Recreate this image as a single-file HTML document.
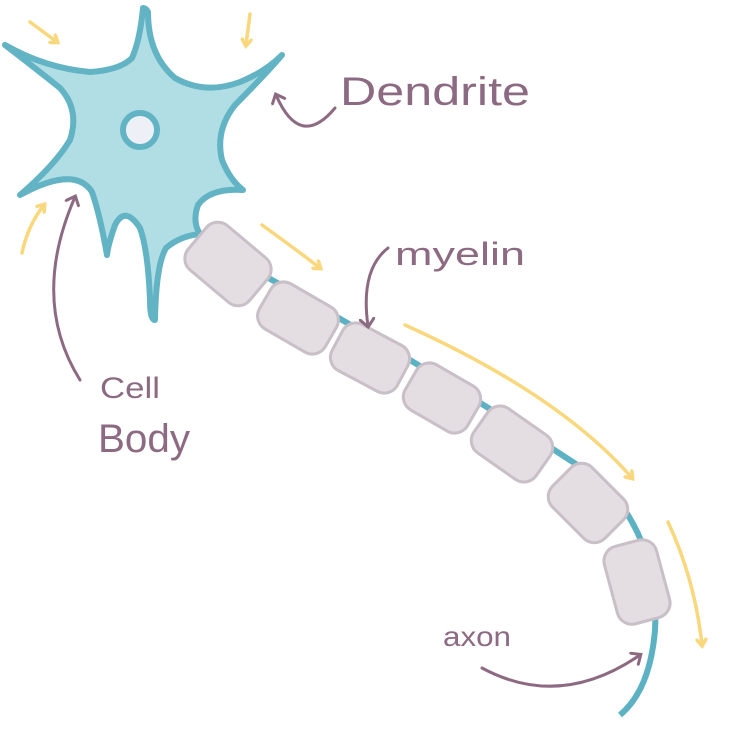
<!DOCTYPE html>
<html><head><meta charset="utf-8"><style>
html,body{margin:0;padding:0;background:#fff}
svg{display:block}
text{font-family:"Liberation Sans",sans-serif;fill:#8c6a82}
</style></head><body>
<svg width="750" height="750" viewBox="0 0 750 750" xmlns="http://www.w3.org/2000/svg">
<defs>
<marker id="ya" markerWidth="12" markerHeight="12" refX="7" refY="6" orient="auto" markerUnits="userSpaceOnUse">
<path d="M1,1 L8,6 L1,11" fill="none" stroke="#f9d77c" stroke-width="3.5" stroke-linecap="round"/></marker>
<marker id="pa" markerWidth="16" markerHeight="16" refX="8" refY="8" orient="auto" markerUnits="userSpaceOnUse">
<path d="M1,1 L9,8 L1,15" fill="none" stroke="#8c6a82" stroke-width="3" stroke-linecap="round"/></marker>
</defs>
<!-- axon -->
<path d="M200,240 Q420,360 600,480 Q660,540 655,630 Q650,690 620,715" fill="none" stroke="#5cb2c3" stroke-width="6"/>
<!-- cell body -->
<path d="M5,45 Q45,68 90,72 Q120,70 132,58 Q140,40 143,8 Q146,8 148,12 Q148,55 175,78 Q205,95 240,82 Q265,72 282,55 Q262,78 235,105 Q215,130 222,160 Q230,180 243,190 Q210,188 198,205 Q192,222 200,234 Q180,236 166,248 Q156,265 155,320 Q150,320 150,300 Q148,250 140,228 Q125,205 115,225 Q108,245 107,255 Q100,215 92,192 Q75,165 20,195 Q55,165 70,140 Q80,110 60,88 Q35,68 5,45 Z"
 fill="#b1dde4" stroke="#62b3c4" stroke-width="6" stroke-linejoin="round"/>
<circle cx="140" cy="130" r="17" fill="#eef0f8" stroke="#62b3c4" stroke-width="6"/>
<!-- myelin -->
<g fill="#e4dde2" stroke="#c9bfc7" stroke-width="3">
<rect x="-40" y="-29" width="80" height="58" rx="15" transform="translate(228,264) rotate(40)"/>
<rect x="-38" y="-26" width="76" height="52" rx="15" transform="translate(298,318) rotate(30)"/>
<rect x="-37" y="-26" width="74" height="52" rx="15" transform="translate(370,358) rotate(28)"/>
<rect x="-36" y="-26" width="72" height="52" rx="15" transform="translate(442,398) rotate(30)"/>
<rect x="-38" y="-27" width="76" height="54" rx="15" transform="translate(512,444) rotate(35)"/>
<rect x="-37" y="-28" width="74" height="56" rx="15" transform="translate(588,503) rotate(45)"/>
<rect x="-40" y="-27" width="80" height="54" rx="15" transform="translate(637,582) rotate(75)"/>
</g>
<!-- yellow arrows -->
<g stroke="#f9d77c" stroke-width="3.5" fill="none" stroke-linecap="round" marker-end="url(#ya)">
<path d="M30,22 L57,42"/><path d="M250,14 L246,45"/><path d="M22,253 Q28,225 44,205"/>
<path d="M262,225 Q290,245 320,268"/><path d="M405,325 Q560,395 632,478"/>
<path d="M668,522 Q695,580 702,645"/>
</g>
<!-- purple arrows -->
<g stroke="#8c6a82" stroke-width="3" fill="none" stroke-linecap="round" marker-end="url(#pa)">
<path d="M335,108 Q300,150 276,95"/>
<path d="M388,248 Q360,270 368,326"/>
<path d="M80,380 Q30,300 75,197"/>
<path d="M482,668 Q560,710 640,655"/>
</g>
<text x="340" y="105" font-size="40" textLength="190" lengthAdjust="spacingAndGlyphs">Dendrite</text>
<text x="395" y="265" font-size="32" textLength="130" lengthAdjust="spacingAndGlyphs">myelin</text>
<text x="100" y="398" font-size="30" textLength="60" lengthAdjust="spacingAndGlyphs">Cell</text>
<text x="98" y="452" font-size="40" textLength="92" lengthAdjust="spacingAndGlyphs">Body</text>
<text x="443" y="646" font-size="28" textLength="68" lengthAdjust="spacingAndGlyphs">axon</text>
</svg>
</body></html>
